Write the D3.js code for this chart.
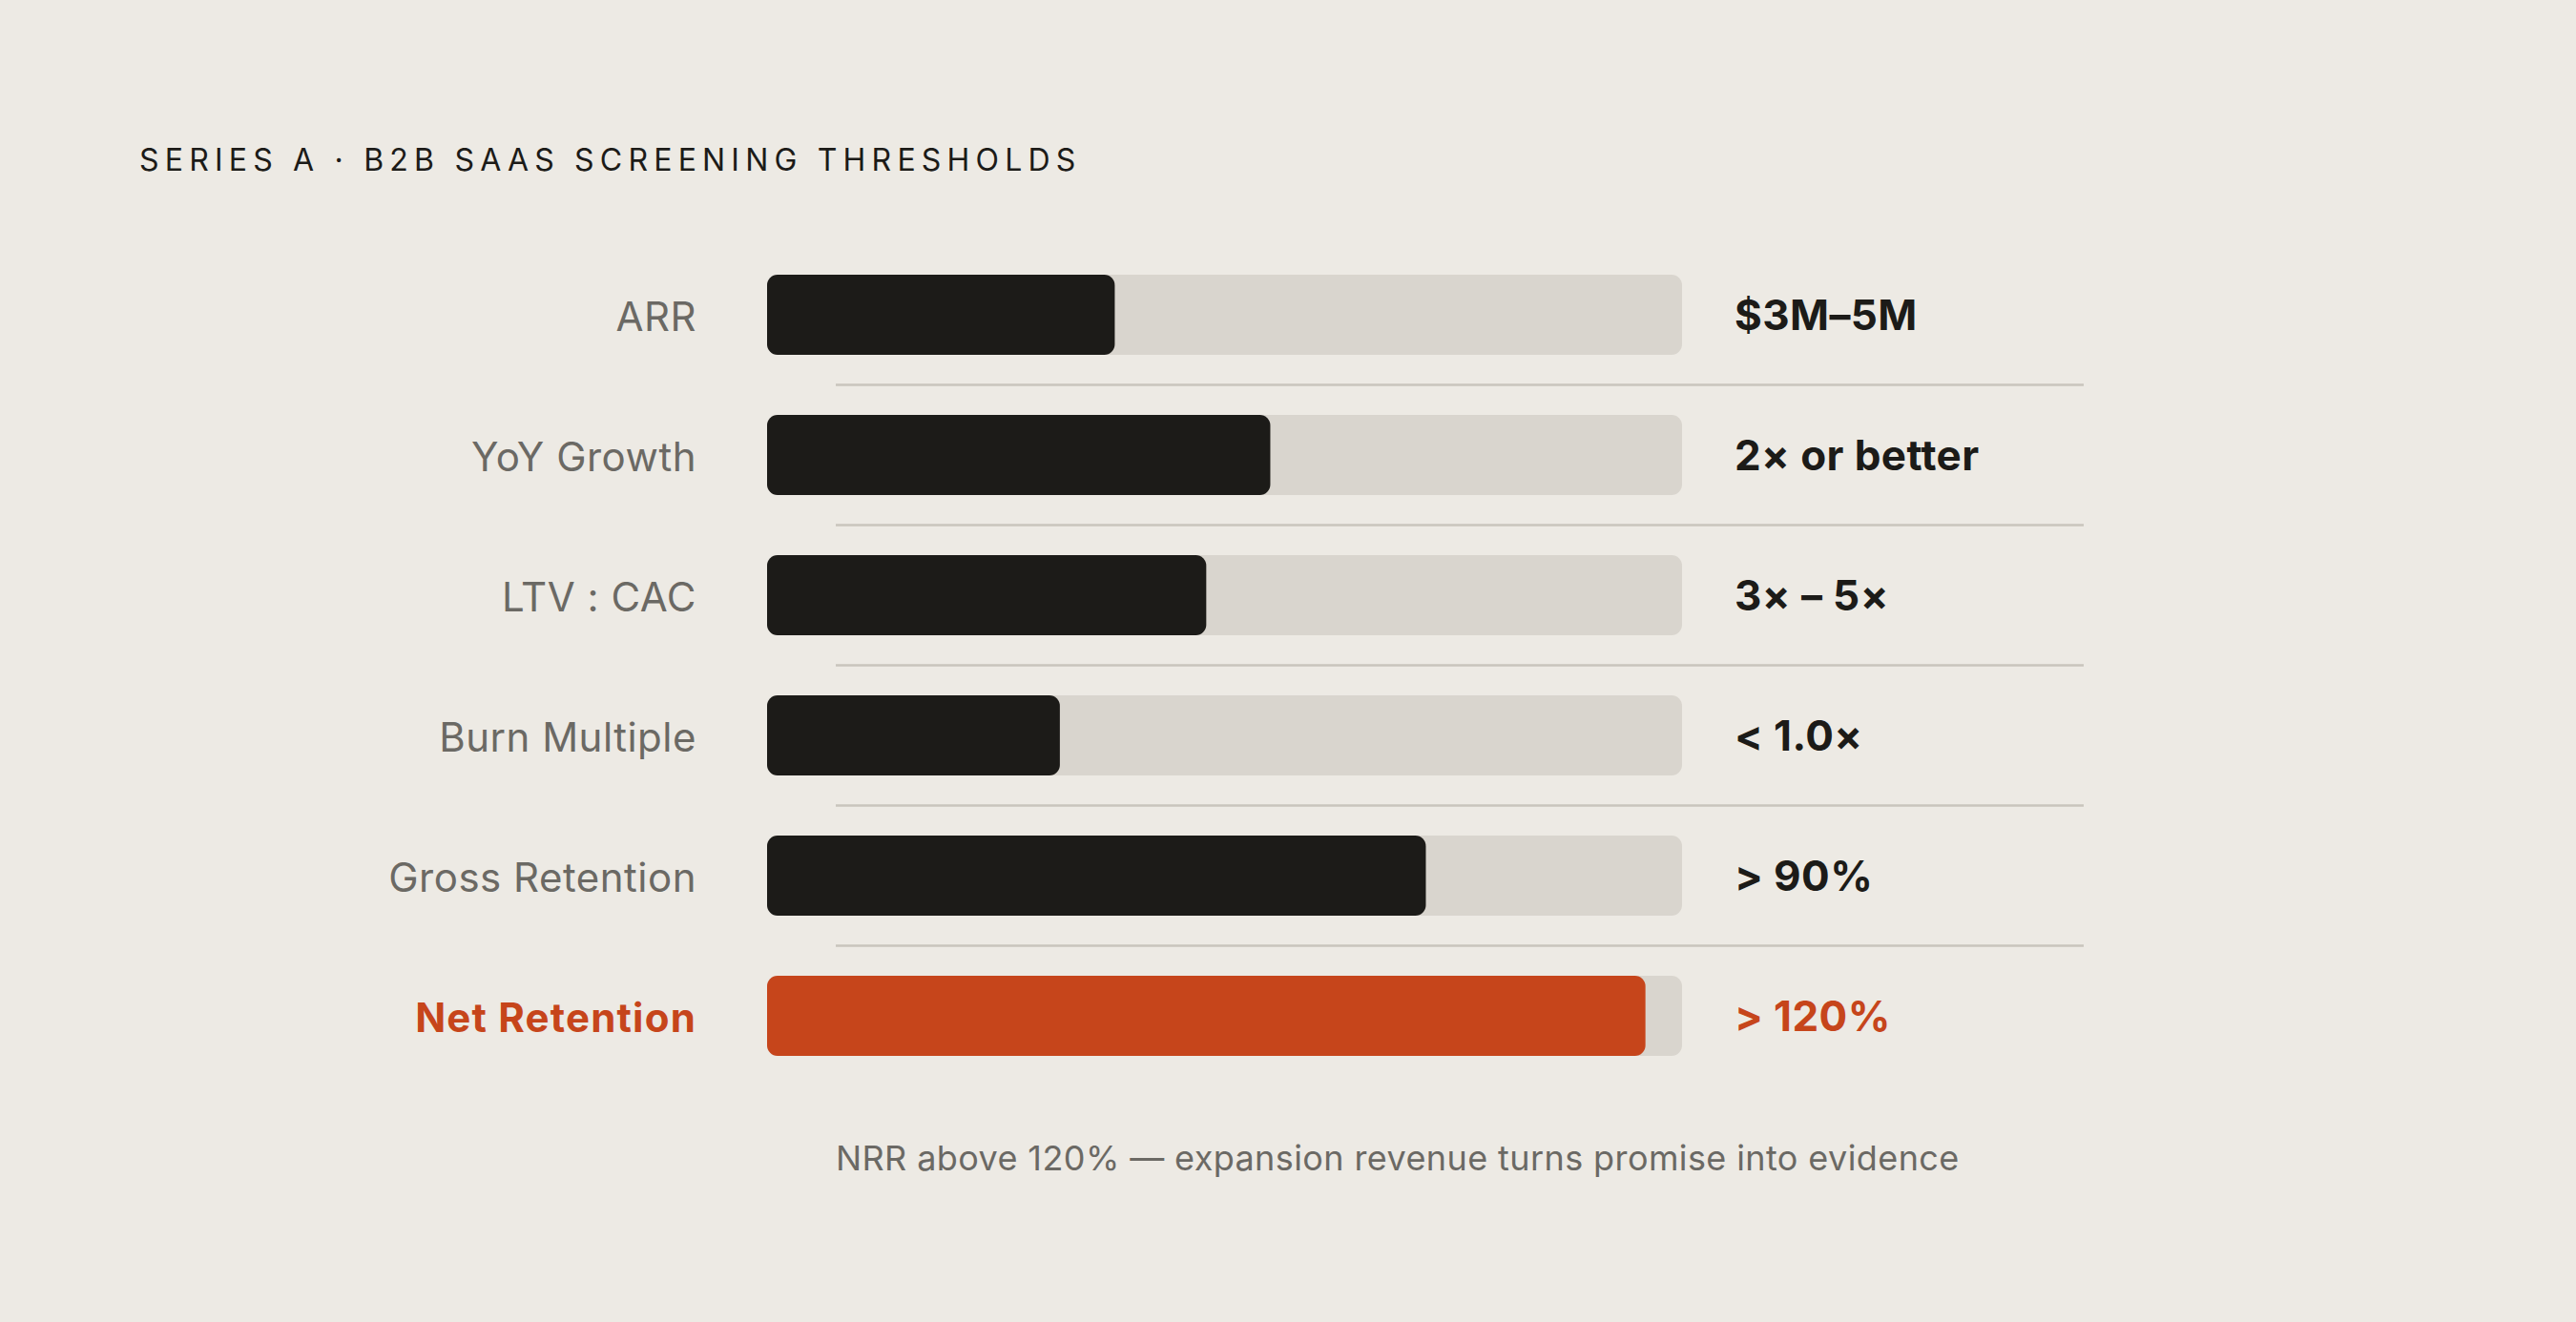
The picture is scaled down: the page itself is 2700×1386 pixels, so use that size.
<!DOCTYPE html>
<html>
<head>
<meta charset="utf-8">
<script src="https://cdn.jsdelivr.net/npm/d3@7.9.0/dist/d3.min.js"></script>
<style>
  html, body { margin: 0; padding: 0; background: #edeae4; }
  svg { display: block; }
  text { font-family: "Inter", "Noto Sans", sans-serif; }
</style>
</head>
<body>
<div id="chart"></div>
<script>
// screening metrics
const metrics = ["ARR", "YoY Growth", "LTV : CAC", "Burn Multiple", "Gross Retention", "Net Retention"];
const scores = [0.38, 0.55, 0.48, 0.32, 0.72, 0.96];
const thresholds = ["$3M–5M", "2× or better", "3× – 5×", "< 1.0×", "> 90%", "> 120%"];
const highlight = "Net Retention";

const titleText = "SERIES A · B2B SAAS SCREENING THRESHOLDS";
const noteText = "NRR above 120% — expansion revenue turns promise into evidence";

const width = 2700;
const height = 1386;

const colors = {
    bg: "#edeae4",
    track: "#d9d5ce",
    bar: "#1c1b18",
    accent: "#c6451b",
    label: "#6b6964",
    rule: "#c9c5bd"
};

const svg = d3.select("#chart").append("svg")
    .attr("width", width)
    .attr("height", height);

svg.append("rect")
    .attr("width", width)
    .attr("height", height)
    .attr("fill", colors.bg);

const x = d3.scaleLinear()
    .domain([0, 1])
    .range([804, 1763]);

const y = d3.scaleBand()
    .domain(metrics)
    .range([256.5, 1138.5])
    .paddingInner(63 / 147)
    .paddingOuter(31.5 / 147);

const rows = metrics.map((m, i) => ({ metric: m, score: scores[i], threshold: thresholds[i] }));
const gap = y.step() - y.bandwidth();

// title
svg.append("text")
    .attr("x", 146)
    .attr("y", 179)
    .attr("fill", colors.bar)
    .style("font-size", "32px")
    .style("letter-spacing", "6.2px")
    .text(titleText);

// separators between rows
svg.selectAll(".rule")
    .data(rows.slice(0, -1))
    .enter().append("line")
    .attr("class", "rule")
    .attr("x1", 876)
    .attr("x2", 2184)
    .attr("y1", d => y(d.metric) + y.bandwidth() + gap / 2)
    .attr("y2", d => y(d.metric) + y.bandwidth() + gap / 2)
    .attr("stroke", colors.rule)
    .attr("stroke-width", 2.5);

// background tracks
svg.selectAll(".track")
    .data(rows)
    .enter().append("rect")
    .attr("class", "track")
    .attr("x", x(0))
    .attr("y", d => y(d.metric))
    .attr("width", x(1) - x(0))
    .attr("height", y.bandwidth())
    .attr("rx", 11)
    .attr("fill", colors.track);

// filled bars
svg.selectAll(".bar")
    .data(rows)
    .enter().append("rect")
    .attr("class", "bar")
    .attr("x", x(0))
    .attr("y", d => y(d.metric))
    .attr("width", d => x(d.score) - x(0))
    .attr("height", y.bandwidth())
    .attr("rx", 11)
    .attr("fill", d => d.metric === highlight ? colors.accent : colors.bar);

// metric labels
svg.selectAll(".label")
    .data(rows)
    .enter().append("text")
    .attr("class", "label")
    .attr("x", 730)
    .attr("y", d => y(d.metric) + y.bandwidth() / 2)
    .attr("dy", "0.4em")
    .attr("text-anchor", "end")
    .attr("fill", d => d.metric === highlight ? colors.accent : colors.label)
    .style("font-size", "42px")
    .style("font-weight", d => d.metric === highlight ? 700 : 400)
    .style("letter-spacing", d => d.metric === highlight ? "1.2px" : "0.5px")
    .text(d => d.metric);

// threshold values
svg.selectAll(".value")
    .data(rows)
    .enter().append("text")
    .attr("class", "value")
    .attr("x", 1818)
    .attr("y", d => y(d.metric) + y.bandwidth() / 2)
    .attr("dy", "0.36em")
    .attr("fill", d => d.metric === highlight ? colors.accent : colors.bar)
    .style("font-size", "44px")
    .style("font-weight", 700)
    .style("letter-spacing", "0.4px")
    .text(d => d.threshold);

// footnote
svg.append("text")
    .attr("x", 876)
    .attr("y", 1227)
    .attr("fill", colors.label)
    .style("font-size", "36px")
    .style("letter-spacing", "0.4px")
    .text(noteText);
</script>
</body>
</html>
